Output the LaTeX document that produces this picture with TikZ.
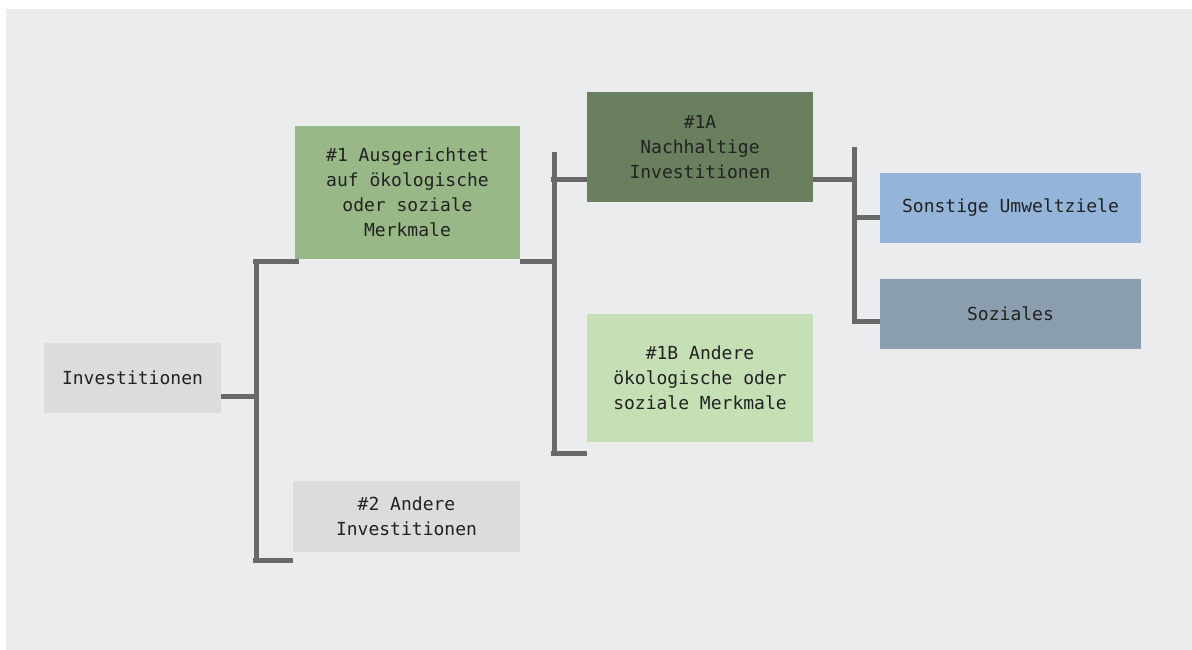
\documentclass[tikz,border=0pt]{standalone}
\usepackage{fontspec}
\setmainfont{DejaVu Sans Mono}
\definecolor{bggray}{HTML}{EBECEE}
\definecolor{linegray}{HTML}{696969}
\definecolor{boxgray}{HTML}{DCDCDC}
\definecolor{midgreen}{HTML}{98B887}
\definecolor{darkgreen}{HTML}{6A7F5E}
\definecolor{lightgreen}{HTML}{C6E0B6}
\definecolor{skyblue}{HTML}{95B4D9}
\definecolor{slateblue}{HTML}{8A9EAF}
\definecolor{txt}{HTML}{222222}
\tikzset{
  box/.style={rectangle, inner sep=0pt, align=center, text=txt,
    font=\fontsize{18}{25}\selectfont},
  conn/.style={draw=linegray, line width=5pt}
}
\begin{document}
\begin{tikzpicture}[x=1pt,y=1pt]
\useasboundingbox (0,0) rectangle (1192,-650);
\fill[bggray] (6,-9) rectangle (1192,-650);

\node[box, fill=boxgray, minimum width=177, minimum height=70] (inv) at (132.5,-378) {Investitionen};
\node[box, fill=midgreen, minimum width=225, minimum height=133] (one) at (407.5,-192.5) {\#1 Ausgerichtet\\auf ökologische\\oder soziale\\Merkmale};
\node[box, fill=boxgray, minimum width=227, minimum height=71] (two) at (406.5,-516.5) {\#2 Andere\\Investitionen};
\node[box, fill=darkgreen, minimum width=226, minimum height=110] (oneA) at (700,-147) {\#1A\\Nachhaltige\\Investitionen};
\node[box, fill=lightgreen, minimum width=226, minimum height=128] (oneB) at (700,-378) {\#1B Andere\\ökologische oder\\soziale Merkmale};
\node[box, fill=skyblue, minimum width=261, minimum height=70] (env) at (1010.5,-208) {Sonstige Umweltziele};
\node[box, fill=slateblue, minimum width=261, minimum height=70] (soc) at (1010.5,-314) {Soziales};

% trunk 1
\coordinate (t1a) at (256.5,-258.5);
\coordinate (t1b) at (256.5,-562.5);
\coordinate (t1m) at (256.5,-396);
\coordinate (t1u) at (299,-261);
\coordinate (t1d) at (293,-560);
\draw[conn] (t1a) -- (t1b);
\draw[conn] (inv.east |- t1m) -- ([xshift=2.5]t1m);
\draw[conn] ([xshift=-3.5]t1u -| t1a) -- (t1u);
\draw[conn] ([xshift=-3.5]t1d -| t1a) -- (two.west |- t1d);

% trunk 2
\coordinate (t2a) at (554,-152);
\coordinate (t2b) at (554,-455.5);
\coordinate (t2m) at (554,-261);
\coordinate (t2u) at (554,-180);
\coordinate (t2d) at (554,-453);
\draw[conn] (t2a) -- (t2b);
\draw[conn] (one.east |- t2m) -- ([xshift=3]t2m);
\draw[conn] ([xshift=-3.5]t2u) -- (oneA.west |- t2u);
\draw[conn] ([xshift=-3.5]t2d) -- (oneB.west |- t2d);

% trunk 3
\coordinate (t3a) at (854,-147);
\coordinate (t3b) at (854,-323.5);
\coordinate (t3m) at (854,-180);
\coordinate (t3u) at (854,-217);
\coordinate (t3d) at (854,-321);
\draw[conn] (t3a) -- (t3b);
\draw[conn] (oneA.east |- t3m) -- ([xshift=2.5]t3m);
\draw[conn] (t3u) -- (env.west |- t3u);
\draw[conn] ([xshift=-2.5]t3d) -- (soc.west |- t3d);
\end{tikzpicture}
\end{document}
